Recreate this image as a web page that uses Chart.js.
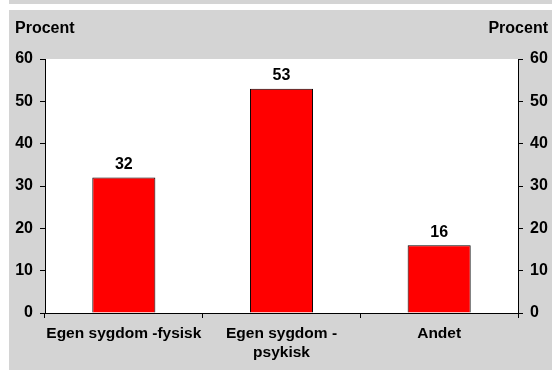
<!DOCTYPE html>
<html>
<head>
<meta charset="utf-8">
<script src="https://cdn.jsdelivr.net/npm/chart.js@4/dist/chart.umd.min.js"></script>
<style>
  html, body { margin: 0; padding: 0; background: #ffffff; }
  body { width: 552px; height: 370px; position: relative; overflow: hidden; }
  #topband { position: absolute; left: 9px; top: 0; width: 543px; height: 4px; background: #d4d4d4; }
  #panel { position: absolute; left: 9px; top: 10px; width: 543px; height: 360px; }
</style>
</head>
<body>
<div id="topband"></div>
<div id="panel"><canvas id="c"></canvas></div>
<script>
// Reasons, share in percent
const categories = ['Egen sygdom -fysisk', ['Egen sygdom -', 'psykisk'], 'Andet'];
const shares = [32, 53, 16];
const axisTitle = 'Procent';

const FONT = '"Liberation Sans", Arial, sans-serif';
const PANEL_GRAY = '#d4d4d4';

// Gray panel with a white plot area behind the bars
const backdrop = {
  id: 'backdrop',
  beforeDraw(chart) {
    const { ctx, chartArea: a } = chart;
    ctx.save();
    ctx.fillStyle = PANEL_GRAY;
    ctx.fillRect(0, 0, chart.width, chart.height);
    ctx.fillStyle = '#ffffff';
    ctx.fillRect(a.left, a.top, a.right - a.left, a.bottom - a.top);
    ctx.restore();
  }
};

// "Procent" above both value axes, and the value above every bar
const annotations = {
  id: 'annotations',
  afterDatasetsDraw(chart) {
    const { ctx } = chart;
    ctx.save();
    ctx.fillStyle = '#000000';
    ctx.font = 'bold 16px ' + FONT;
    ctx.textBaseline = 'alphabetic';
    ctx.textAlign = 'left';
    ctx.fillText(axisTitle, 6, 23);
    ctx.textAlign = 'right';
    ctx.fillText(axisTitle, chart.width - 4, 23);

    const ds = chart.data.datasets[0];
    const meta = chart.getDatasetMeta(0);
    ctx.textAlign = 'center';
    ctx.textBaseline = 'bottom';
    meta.data.forEach((bar, i) => {
      ctx.fillText(String(ds.data[i]), bar.x, bar.y - 5);
    });
    ctx.restore();
  }
};

const valueAxis = (position, width) => ({
  type: 'linear',
  position: position,
  min: 0,
  max: 60,
  afterFit(scale) { scale.width = width; },
  ticks: {
    stepSize: 10,
    padding: 7,
    color: '#000000',
    font: { family: FONT, size: 16, weight: 'bold' }
  },
  grid: { drawOnChartArea: false, drawTicks: true, tickLength: 5, tickColor: '#000000' },
  border: { display: true, color: '#000000', width: 1 }
});

new Chart(document.getElementById('c'), {
  type: 'bar',
  data: {
    labels: categories,
    datasets: [{
      data: shares,
      backgroundColor: '#ff0000',
      borderColor: '#000000',
      borderWidth: 1,
      barPercentage: 0.4,
      categoryPercentage: 1.0,
      yAxisID: 'y'
    }]
  },
  options: {
    responsive: true,
    maintainAspectRatio: false,
    animation: false,
    layout: { padding: { top: 49, left: 0, right: 0, bottom: 0 } },
    plugins: {
      legend: { display: false },
      tooltip: { enabled: false },
      title: { display: false }
    },
    scales: {
      x: {
        afterFit(scale) { scale.height = 57; },
        ticks: {
          padding: 6,
          color: '#000000',
          maxRotation: 0,
          autoSkip: false,
          font: { family: FONT, size: 15.5, weight: 'bold', lineHeight: 1.22 }
        },
        grid: { offset: true, drawOnChartArea: false, drawTicks: true, tickLength: 5, tickColor: '#000000' },
        border: { display: true, color: '#000000', width: 1 }
      },
      y: valueAxis('left', 36),
      y1: valueAxis('right', 34)
    }
  },
  plugins: [backdrop, annotations]
});
</script>
</body>
</html>
